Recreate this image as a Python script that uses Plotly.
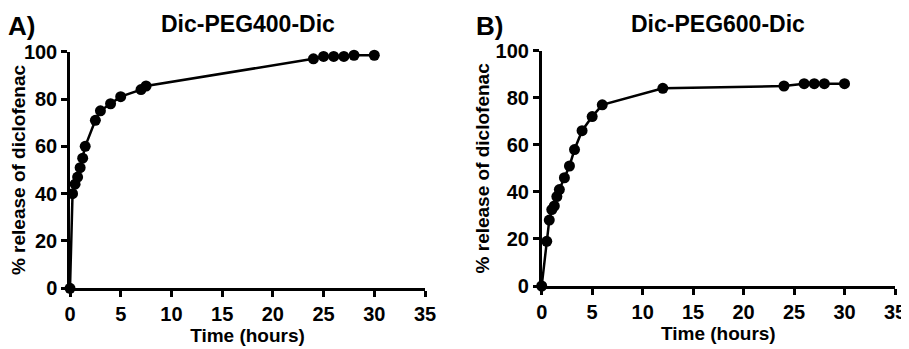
import plotly.graph_objects as go

# Panel A: Dic-PEG400-Dic
time_a = [0, 0.25, 0.5, 0.75, 1, 1.25, 1.5, 2.5, 3, 4, 5, 7, 7.5, 24, 25, 26, 27, 28, 30]
release_a = [0, 40, 44, 47, 51, 55, 60, 71, 75, 78, 81, 84, 85.5, 97, 98, 98, 98, 98.5, 98.5]

# Panel B: Dic-PEG600-Dic
time_b = [0, 0.5, 0.75, 1, 1.25, 1.5, 1.75, 2.25, 2.75, 3.25, 4, 5, 6, 12, 24, 26, 27, 28, 30]
release_b = [0, 19, 28, 32.5, 34, 38, 41, 46, 51, 58, 66, 72, 77, 84, 85, 86, 86, 86, 86]

titles = ["Dic-PEG400-Dic", "Dic-PEG600-Dic"]
panel_labels = ["A)", "B)"]
x_ticks = [0, 5, 10, 15, 20, 25, 30, 35]
y_ticks = [0, 20, 40, 60, 80, 100]

W, H = 909, 349
OFF = 8  # page body margin shifts the figure by this much
FONT = "Arial, 'Liberation Sans', sans-serif"

fig = go.Figure()

line_style = dict(color="black", width=2.5)
marker_style = dict(color="black", size=11, symbol="circle")

fig.add_trace(go.Scatter(x=time_a, y=release_a, mode="lines+markers",
                         line=line_style, marker=marker_style, cliponaxis=False,
                         xaxis="x", yaxis="y", showlegend=False))
fig.add_trace(go.Scatter(x=time_b, y=release_b, mode="lines+markers",
                         line=line_style, marker=marker_style, cliponaxis=False,
                         xaxis="x2", yaxis="y2", showlegend=False))

# plot areas in screen pixels (left, right, top, bottom)
boxes = [(70, 425, 51.7, 288.3), (541.7, 895, 50.7, 286)]


def px_x(v):
    return (v - OFF) / W


def px_y(v):
    return 1 - (v - OFF) / H


axis_common = dict(showline=True, linecolor="black", linewidth=2.5,
                   ticks="outside", ticklen=6, tickwidth=2.5, tickcolor="black",
                   showgrid=False, zeroline=False, automargin=False,
                   tickfont=dict(family=FONT, size=20, color="black", weight="bold"),
                   title_font=dict(family=FONT, size=19, color="black", weight="bold"))

layout = dict(width=W, height=H, margin=dict(l=0, r=0, t=0, b=0),
              plot_bgcolor="white", paper_bgcolor="white",
              font=dict(family=FONT, color="black"))

for i, (l, r, t, b) in enumerate(boxes):
    sfx = "" if i == 0 else str(i + 1)
    layout["xaxis" + sfx] = dict(axis_common, domain=[px_x(l), px_x(r)], range=[0, 35],
                                 tickvals=x_ticks, anchor="y" + sfx,
                                 title=dict(text="Time (hours)", standoff=3))
    layout["yaxis" + sfx] = dict(axis_common, domain=[px_y(b), px_y(t)], range=[0, 100],
                                 tickvals=y_ticks, anchor="x" + sfx,
                                 title=dict(text="% release of diclofenac", standoff=1))

fig.update_layout(**layout)

annotations = []
for i, (l, r, t, b) in enumerate(boxes):
    annotations.append(dict(text="<b>" + titles[i] + "</b>", x=px_x((l + r) / 2), y=px_y(9),
                            xref="paper", yref="paper", showarrow=False,
                            xanchor="center", yanchor="top",
                            font=dict(family=FONT, size=23, color="black")))
    annotations.append(dict(text="<b>" + panel_labels[i] + "</b>", x=px_x(6 if i == 0 else 474),
                            y=px_y(9), xref="paper", yref="paper", showarrow=False,
                            xanchor="left", yanchor="top",
                            font=dict(family=FONT, size=26, color="black")))
fig.update_layout(annotations=annotations)

fig.write_html("out.html")
